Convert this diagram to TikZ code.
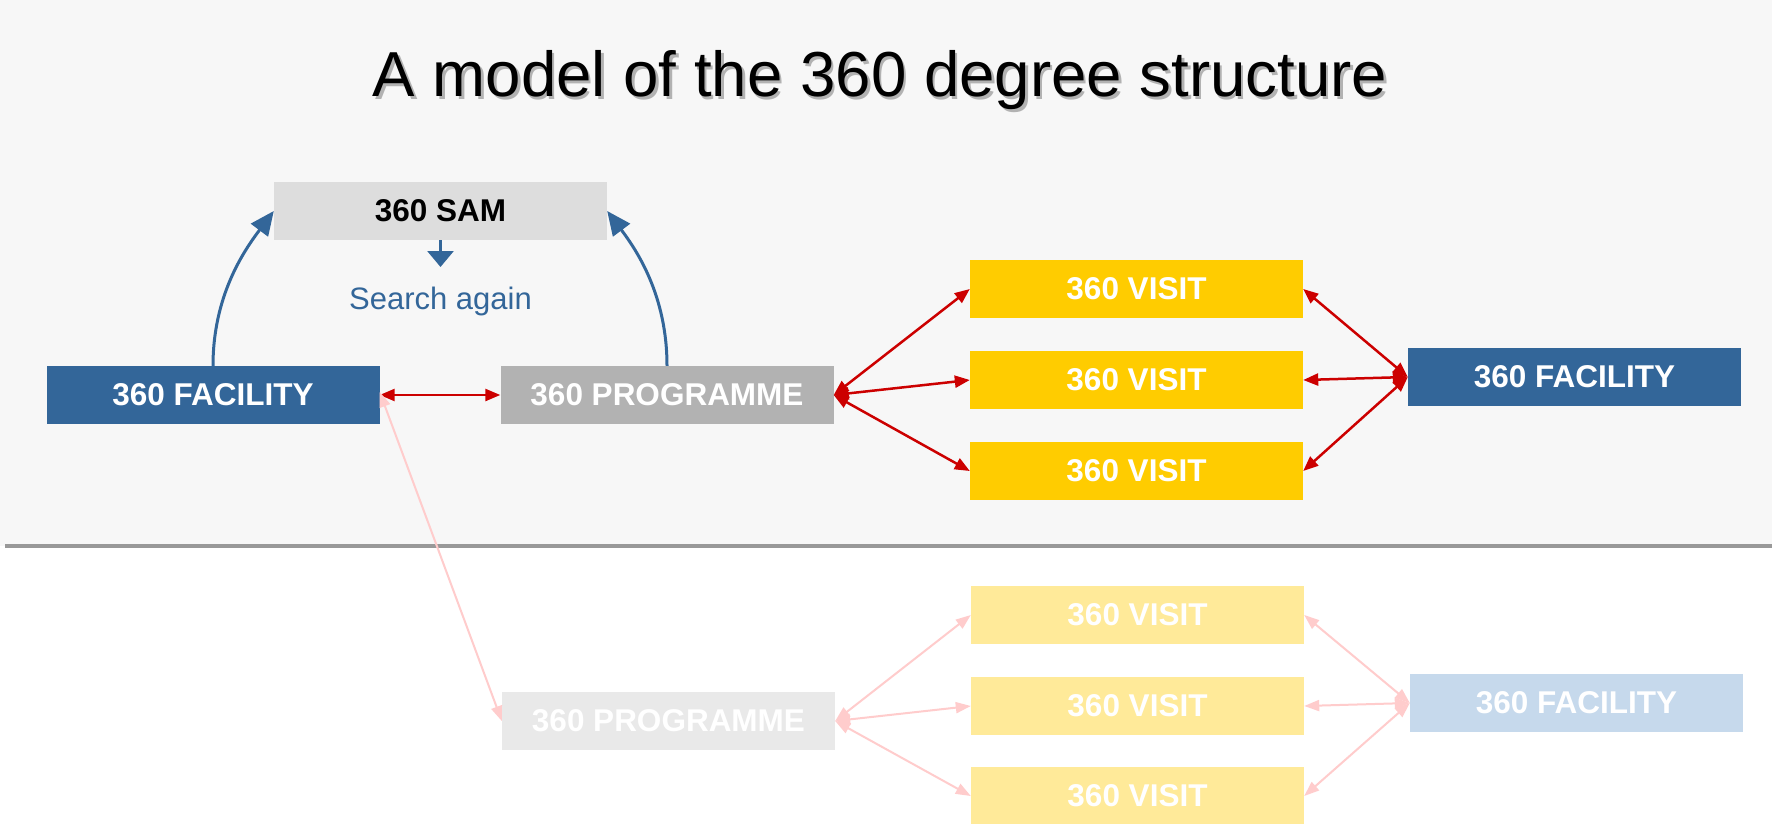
\documentclass[tikz,border=0pt]{standalone}
\usepackage{fontspec}
\setmainfont{Liberation Sans}
\usetikzlibrary{arrows.meta}
\definecolor{bgtop}{HTML}{F7F7F7}
\definecolor{rulecol}{HTML}{999999}
\definecolor{navy}{HTML}{336699}
\definecolor{samgray}{HTML}{DDDDDD}
\definecolor{proggray}{HTML}{B2B2B2}
\definecolor{visityel}{HTML}{FFCC00}
\definecolor{arrred}{HTML}{CC0000}
\definecolor{fprog}{HTML}{E9E9E9}
\definecolor{fvisit}{HTML}{FFEA99}
\definecolor{ffac}{HTML}{C6D9EC}
\definecolor{fred}{HTML}{FFCCCC}
\begin{document}
\begin{tikzpicture}[x=1pt,y=-1pt,
  box/.style={minimum width=333pt, minimum height=58pt, inner sep=0pt,
    font=\fontsize{31.5}{36}\selectfont\bfseries, text=white},
  redarr/.style={draw=arrred, line width=2.5pt,
    {Triangle[length=15pt,width=12pt]}-{Triangle[length=15pt,width=12pt]}},
  pinkarr/.style={draw=fred, line width=2pt,
    {Triangle[length=15pt,width=11pt]}-{Triangle[length=15pt,width=11pt]}},
  bluearr/.style={draw=navy, line width=3pt, -{Triangle[length=24pt,width=21pt]}},
  titlefont/.style={font=\fontsize{63.6}{70}\selectfont, inner sep=0pt, anchor=base}
]
\useasboundingbox (0,0) rectangle (1772,824);
\fill[white] (0,0) rectangle (1772,824);
\fill[bgtop] (0,0) rectangle (1772,546);
\draw[line width=4pt, rulecol] (5,546) -- (1772,546);

% title
\node[titlefont, text=black!30] (titleshadow) at (882.5,100) {A model of the 360 degree structure};
\node[titlefont, text=black] (title) at (880,97) {A model of the 360 degree structure};

% upper nodes
\node[box, fill=samgray, text=black] (sam) at (440.5,211) {360 SAM};
\node[font=\fontsize{31}{36}\selectfont, text=navy, inner sep=0pt] (search) at (440.5,301) {Search again};
\coordinate (samtip) at (440.5,267);
\node[box, fill=navy] (facL) at (213,395) {360 FACILITY};
\node[box, fill=proggray] (prog) at (667,395) {360 PROGRAMME};
\node[box, fill=visityel] (v1) at (1136.5,289) {360 VISIT};
\node[box, fill=visityel] (v2) at (1136.5,380) {360 VISIT};
\node[box, fill=visityel] (v3) at (1136.5,471) {360 VISIT};
\node[box, fill=navy] (facR) at (1574.5,377) {360 FACILITY};

% faded nodes
\node[box, fill=fprog] (progF) at (668.5,721) {360 PROGRAMME};
\node[box, fill=fvisit] (fv1) at (1137.5,615) {360 VISIT};
\node[box, fill=fvisit] (fv2) at (1137.5,706) {360 VISIT};
\node[box, fill=fvisit] (fv3) at (1137.5,796) {360 VISIT};
\node[box, fill=ffac] (facF) at (1576.5,703) {360 FACILITY};

% blue connectors
\draw[draw=navy, line width=3pt, -{Triangle[length=16pt,width=26pt]}] (sam.south) -- (samtip);
\draw[bluearr] (facL.north) .. controls +(0,-70) and +(-30,40) .. (sam.west);
\draw[bluearr] (prog.north) .. controls +(0,-70) and +(30,40) .. (sam.east);

% red connectors
\draw[redarr] (facL.east) -- (prog.west);
\draw[redarr] (prog.east) -- (v1.west);
\draw[redarr] (prog.east) -- (v2.west);
\draw[redarr] (prog.east) -- (v3.west);
\draw[redarr] (v1.east) -- (facR.west);
\draw[redarr] (v2.east) -- (facR.west);
\draw[redarr] (v3.east) -- (facR.west);

% faded connectors
\draw[pinkarr] ([yshift=3pt]facL.east) -- (progF.west);
\draw[pinkarr] (progF.east) -- (fv1.west);
\draw[pinkarr] (progF.east) -- (fv2.west);
\draw[pinkarr] (progF.east) -- (fv3.west);
\draw[pinkarr] (fv1.east) -- (facF.west);
\draw[pinkarr] (fv2.east) -- (facF.west);
\draw[pinkarr] (fv3.east) -- (facF.west);
\end{tikzpicture}
\end{document}
